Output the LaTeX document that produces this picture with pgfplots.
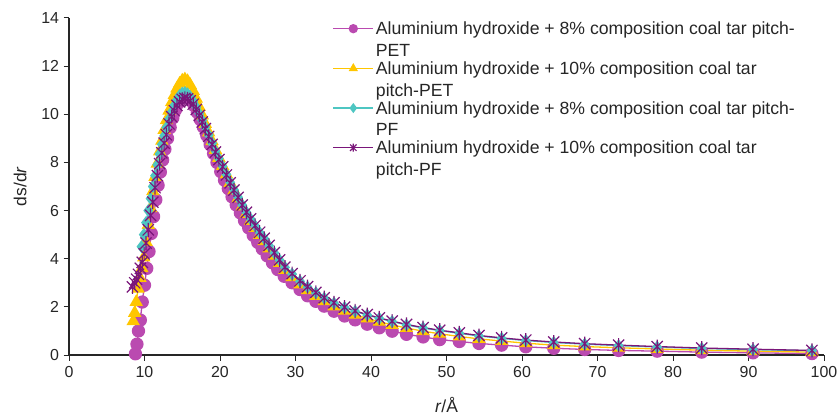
\documentclass[border=0pt]{standalone}
\usepackage{pgfplots}
\pgfplotsset{compat=1.18}
\usepackage{fontspec}
\setmainfont{Liberation Sans}
\definecolor{cpink}{RGB}{186,74,176}
\definecolor{cyel}{RGB}{255,198,0}
\definecolor{ccyan}{RGB}{78,198,194}
\definecolor{cpurp}{RGB}{122,22,122}
\pgfdeclareplotmark{xstar}{%
  \pgfpathmoveto{\pgfqpoint{0pt}{\pgfplotmarksize}}%
  \pgfpathlineto{\pgfqpoint{0pt}{-\pgfplotmarksize}}%
  \pgfpathmoveto{\pgfqpoint{-0.8\pgfplotmarksize}{-0.8\pgfplotmarksize}}%
  \pgfpathlineto{\pgfqpoint{0.8\pgfplotmarksize}{0.8\pgfplotmarksize}}%
  \pgfpathmoveto{\pgfqpoint{-0.8\pgfplotmarksize}{0.8\pgfplotmarksize}}%
  \pgfpathlineto{\pgfqpoint{0.8\pgfplotmarksize}{-0.8\pgfplotmarksize}}%
  \pgfusepathqstroke}
\begin{document}
\begin{tikzpicture}
\useasboundingbox (-69bp,-61bp) rectangle (769bp,355bp);
\begin{axis}[
  scale only axis, width=755bp, height=337bp,
  xmin=0, xmax=100, ymin=0, ymax=14,
  xtick={0,10,...,100}, ytick={0,2,...,14},
  axis lines=left, axis line style={line width=1.1bp, color=black!85, -},
  tick align=outside, major tick length=5.5bp,
  tick style={line width=1bp, color=black!85},
  /pgf/number format/assume math mode=true,
  ticklabel style={font=\fontsize{16}{19}\selectfont, text=black!85},
  xticklabel style={yshift=-2bp},
  yticklabel style={xshift=-1bp},
  xlabel={\textit{r}/Å}, ylabel={ds/d\textit{r}},
  every axis x label/.style={at={(axis description cs:0.5,-0.148)}, anchor=center, font=\fontsize{17.5}{20}\selectfont, text=black!85},
  every axis y label/.style={at={(axis description cs:-0.0647,0.5)}, anchor=center, rotate=90, font=\fontsize{17.5}{20}\selectfont, text=black!85},
  clip=false,
  legend style={at={(axis description cs:0.345,1.0)}, anchor=north west, draw=none, fill=none,
    font=\fontsize{17.7}{21.5}\selectfont, text=black!85, cells={align=left, anchor=base west}, row sep=0bp},
  legend image code/.code={\draw[mark repeat=2,mark phase=2,#1,mark size=4bp] plot coordinates {(0bp,27.7bp) (20bp,27.7bp) (40bp,27.7bp)};},
]
\addplot[color=cpink, line width=1.3bp, mark=*, mark size=6bp, mark options={fill=cpink, draw=cpink}] table {
x y
8.8 0.05
9.0 0.45
9.2 1.0
9.45 1.45
9.7 2.2
10.0 2.9
10.3 3.6
10.6 4.3
10.9 5.05
11.2 5.75
11.5 6.45
11.8 7.05
12.1 7.6
12.4 8.1
12.7 8.55
13.05 9.0
13.4 9.45
13.75 9.85
14.1 10.18
14.45 10.45
14.8 10.63
15.15 10.72
15.5 10.74
15.85 10.68
16.2 10.55
16.6 10.35
17.0 10.08
17.4 9.78
17.8 9.47
18.25 9.12
18.7 8.74
19.15 8.37
19.6 8.0
20.1 7.62
20.6 7.26
21.1 6.91
21.6 6.57
22.15 6.23
22.7 5.9
23.25 5.58
23.8 5.28
24.4 4.97
25.0 4.68
25.6 4.41
26.25 4.12
26.95 3.83
27.65 3.55
28.5 3.27
29.55 3.0
30.6 2.72
31.6 2.46
32.7 2.23
33.8 2.03
35.1 1.82
36.5 1.62
37.9 1.46
39.5 1.28
41.1 1.13
42.8 0.99
44.7 0.86
46.9 0.75
49.1 0.64
51.7 0.56
54.3 0.48
57.3 0.41
60.5 0.34
64.2 0.28
68.3 0.23
72.8 0.19
77.9 0.16
83.8 0.12
90.6 0.09
98.4 0.06
};
\addlegendentry{Aluminium hydroxide + 8\% composition coal tar pitch-\\PET}
\addplot[color=cyel, line width=1.3bp, mark=triangle*, mark size=6.5bp, mark options={fill=cyel, draw=cyel}] table {
x y
8.5 1.4
8.7 1.75
8.9 2.2
9.15 2.75
9.4 3.2
9.65 3.6
9.9 4.05
10.2 4.7
10.5 5.4
10.8 6.1
11.1 6.8
11.4 7.4
11.7 7.95
12.0 8.45
12.3 8.9
12.6 9.35
12.9 9.75
13.25 10.15
13.6 10.5
13.95 10.8
14.3 11.07
14.65 11.27
15.0 11.4
15.35 11.45
15.7 11.38
16.05 11.22
16.45 10.97
16.85 10.65
17.25 10.3
17.65 9.95
18.05 9.6
18.5 9.24
18.95 8.88
19.4 8.52
19.85 8.19
20.35 7.85
20.85 7.5
21.35 7.15
21.85 6.83
22.4 6.5
22.95 6.17
23.5 5.86
24.05 5.57
24.65 5.28
25.25 4.99
25.85 4.73
26.5 4.43
27.2 4.12
27.9 3.82
28.6 3.53
29.55 3.23
30.6 2.93
31.6 2.69
32.7 2.45
33.8 2.23
35.1 2.02
36.5 1.84
37.9 1.67
39.5 1.52
41.1 1.38
42.8 1.25
44.7 1.12
46.9 0.99
49.1 0.88
51.7 0.77
54.3 0.67
57.3 0.58
60.5 0.49
64.2 0.41
68.3 0.35
72.8 0.30
77.9 0.25
83.8 0.20
90.6 0.16
98.4 0.12
};
\addlegendentry{Aluminium hydroxide + 10\% composition coal tar\\pitch-PET}
\addplot[color=ccyan, line width=1.3bp, mark=diamond*, mark size=5.5bp, mark options={fill=ccyan, draw=ccyan}] table {
x y
9.6 4.5
9.9 5.0
10.2 5.5
10.5 6.0
10.8 6.5
11.1 7.0
11.4 7.45
11.7 7.9
12.0 8.35
12.3 8.75
12.6 9.1
12.9 9.45
13.25 9.8
13.6 10.1
13.95 10.37
14.3 10.6
14.65 10.78
15.0 10.88
15.35 10.9
15.7 10.85
16.05 10.73
16.45 10.55
16.85 10.3
17.25 10.03
17.65 9.75
18.05 9.47
18.5 9.14
18.95 8.8
19.4 8.47
19.85 8.16
20.35 7.84
20.85 7.5
21.35 7.17
21.85 6.86
22.4 6.55
22.95 6.23
23.5 5.93
24.05 5.65
24.65 5.37
25.25 5.09
25.85 4.84
26.5 4.54
27.2 4.24
27.9 3.94
28.6 3.64
29.55 3.36
30.6 3.06
31.6 2.82
32.7 2.58
33.8 2.36
35.1 2.15
36.5 1.97
37.9 1.81
39.5 1.66
41.1 1.52
42.8 1.39
44.7 1.25
46.9 1.12
49.1 1.01
51.7 0.90
54.3 0.79
57.3 0.69
60.5 0.60
64.2 0.52
68.3 0.45
72.8 0.39
77.9 0.33
83.8 0.27
90.6 0.22
98.4 0.18
};
\addlegendentry{Aluminium hydroxide + 8\% composition coal tar pitch-\\PF}
\addplot[color=cpurp, line width=1.3bp, mark=xstar, mark size=7bp, mark options={draw=cpurp, line width=1.2bp}] table {
x y
8.4 2.83
8.7 3.0
8.95 3.15
9.2 3.35
9.45 3.6
9.7 3.85
9.95 4.2
10.2 4.65
10.5 5.2
10.8 5.8
11.1 6.35
11.4 6.95
11.7 7.45
12.0 7.95
12.3 8.4
12.6 8.8
12.9 9.15
13.25 9.6
13.6 9.9
13.95 10.15
14.3 10.37
14.65 10.52
15.0 10.62
15.35 10.66
15.7 10.64
16.05 10.56
16.45 10.42
16.85 10.2
17.25 9.95
17.65 9.68
18.05 9.4
18.5 9.08
18.95 8.75
19.4 8.43
19.85 8.12
20.35 7.82
20.85 7.48
21.35 7.15
21.85 6.85
22.4 6.55
22.95 6.23
23.5 5.93
24.05 5.65
24.65 5.38
25.25 5.1
25.85 4.85
26.5 4.55
27.2 4.25
27.9 3.95
28.6 3.65
29.55 3.38
30.6 3.08
31.6 2.84
32.7 2.6
33.8 2.38
35.1 2.17
36.5 1.99
37.9 1.83
39.5 1.68
41.1 1.54
42.8 1.41
44.7 1.27
46.9 1.14
49.1 1.03
51.7 0.92
54.3 0.81
57.3 0.71
60.5 0.62
64.2 0.54
68.3 0.47
72.8 0.41
77.9 0.35
83.8 0.29
90.6 0.24
98.4 0.19
};
\addlegendentry{Aluminium hydroxide + 10\% composition coal tar\\pitch-PF}
\end{axis}
\end{tikzpicture}
\end{document}
